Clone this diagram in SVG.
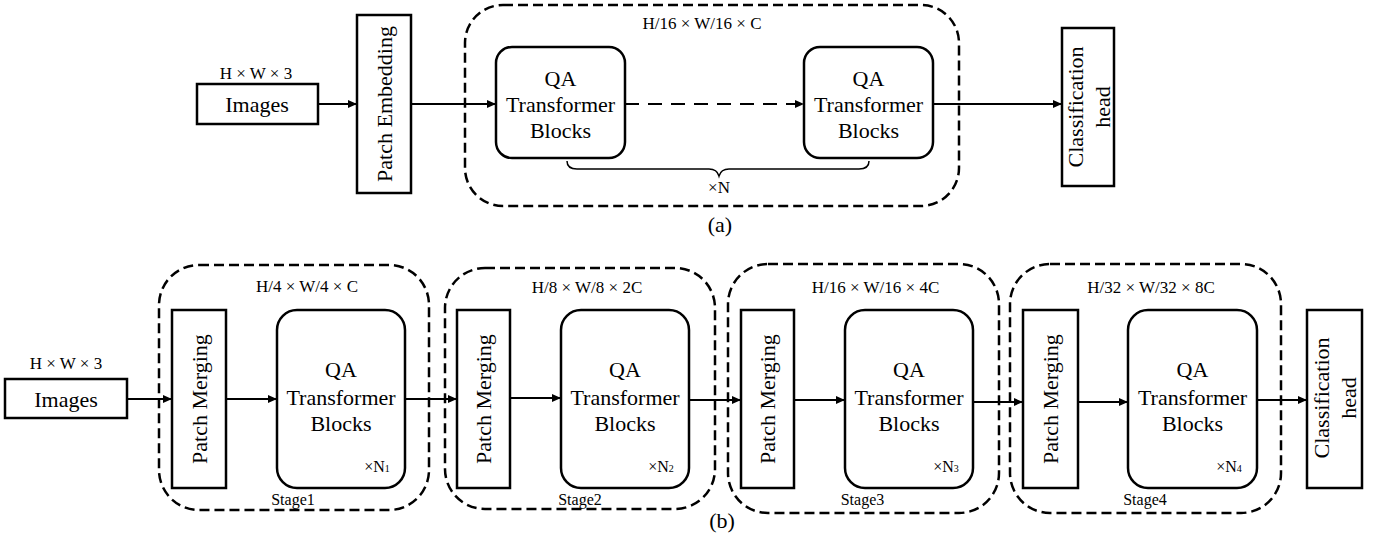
<svg xmlns="http://www.w3.org/2000/svg" width="1379" height="540" viewBox="0 0 1379 540">
<style>
text{font-family:"Liberation Serif","Times New Roman",serif;fill:#000}
.box{fill:#fff;stroke:#000;stroke-width:2.5}
.cont{fill:none;stroke:#000;stroke-width:2.5;stroke-dasharray:10 5}
.big{font-size:22px;text-anchor:middle}
.lbl{font-size:17px;text-anchor:middle}
.small{font-size:16px;text-anchor:middle}
.sub{font-size:10px}
.ln{fill:none;stroke:#000;stroke-width:2}
</style>
<defs>
<marker id="ah" markerUnits="userSpaceOnUse" markerWidth="10" markerHeight="8" refX="9" refY="4" orient="auto">
<path d="M0,0 L9,4 L0,8 Z" fill="#000"/>
</marker>
</defs>

<g id="a-container"><rect class="cont" x="465" y="5" width="494" height="201" rx="38"/><text class="lbl" x="702" y="29">H/16 × W/16 × C</text></g>
<g id="a-images"><text class="lbl" x="256" y="79">H × W × 3</text><rect class="box" x="197" y="84" width="121" height="40"/><text class="big" x="257" y="112">Images</text></g>
<g id="a-patch-embedding"><rect class="box" x="357" y="15" width="54" height="178"/><text class="big" transform="translate(384,104) rotate(-90)" y="8">Patch Embedding</text></g>
<g id="a-qa1"><rect class="box" x="496" y="47" width="129" height="111" rx="16"/><text class="big" x="560.5" y="86">QA</text><text class="big" x="560.5" y="112">Transformer</text><text class="big" x="560.5" y="138">Blocks</text></g>
<g id="a-qa2"><rect class="box" x="804" y="47" width="129" height="111" rx="16"/><text class="big" x="868.5" y="86">QA</text><text class="big" x="868.5" y="112">Transformer</text><text class="big" x="868.5" y="138">Blocks</text></g>
<g id="a-brace"><path d="M567,161 Q567,169 577,169 L709,169 Q717,169 719,176 Q721,169 729,169 L859,169 Q869,169 869,161" fill="none" stroke="#000" stroke-width="1.5"/><text class="lbl" x="719" y="193">×N</text></g>
<g id="a-head"><rect class="box" x="1062" y="28" width="52" height="158"/><text class="big" transform="translate(1088,107) rotate(-90)" y="-5">Classification</text><text class="big" transform="translate(1088,107) rotate(-90)" y="22">head</text></g>
<text class="big" x="720" y="232">(a)</text>

<g id="b-images"><text class="lbl" x="66" y="369">H × W × 3</text><rect class="box" x="5" y="379" width="122" height="39"/><text class="big" x="66" y="407">Images</text></g>

<g id="stage1"><rect class="cont" x="159" y="265" width="270" height="245" rx="40"/><text class="lbl" x="307" y="292">H/4 × W/4 × C</text>
<rect class="box" x="172" y="310" width="54" height="178"/><text class="big" transform="translate(199,399) rotate(-90)" y="7.5">Patch Merging</text>
<rect class="box" x="277" y="310" width="128" height="178" rx="20"/><text class="big" x="341" y="377">QA</text><text class="big" x="341" y="405">Transformer</text><text class="big" x="341" y="431">Blocks</text>
<text class="small" x="377" y="472">×N<tspan class="sub">1</tspan></text>
<text class="small" x="293" y="505">Stage1</text></g>

<g id="stage2"><rect class="cont" x="445" y="268" width="270" height="241" rx="40"/><text class="lbl" x="587" y="293">H/8 × W/8 × 2C</text>
<rect class="box" x="457" y="310" width="53" height="178"/><text class="big" transform="translate(483.5,399) rotate(-90)" y="7.5">Patch Merging</text>
<rect class="box" x="561" y="310" width="128" height="178" rx="20"/><text class="big" x="625" y="377">QA</text><text class="big" x="625" y="405">Transformer</text><text class="big" x="625" y="431">Blocks</text>
<text class="small" x="661" y="472">×N<tspan class="sub">2</tspan></text>
<text class="small" x="580" y="505">Stage2</text></g>

<g id="stage3"><rect class="cont" x="728" y="264" width="271" height="249" rx="40"/><text class="lbl" x="875.5" y="293">H/16 × W/16 × 4C</text>
<rect class="box" x="741" y="310" width="53" height="178"/><text class="big" transform="translate(767.5,399) rotate(-90)" y="7.5">Patch Merging</text>
<rect class="box" x="845" y="310" width="128" height="178" rx="20"/><text class="big" x="909" y="377">QA</text><text class="big" x="909" y="405">Transformer</text><text class="big" x="909" y="431">Blocks</text>
<text class="small" x="946" y="472">×N<tspan class="sub">3</tspan></text>
<text class="small" x="862.5" y="505">Stage3</text></g>

<g id="stage4"><rect class="cont" x="1010" y="264" width="271" height="249" rx="40"/><text class="lbl" x="1151" y="293">H/32 × W/32 × 8C</text>
<rect class="box" x="1023" y="310" width="55" height="178"/><text class="big" transform="translate(1050.5,399) rotate(-90)" y="7.5">Patch Merging</text>
<rect class="box" x="1128" y="310" width="129" height="178" rx="20"/><text class="big" x="1192.5" y="377">QA</text><text class="big" x="1192.5" y="405">Transformer</text><text class="big" x="1192.5" y="431">Blocks</text>
<text class="small" x="1229" y="472">×N<tspan class="sub">4</tspan></text>
<text class="small" x="1145" y="505">Stage4</text></g>

<g id="b-head"><rect class="box" x="1307" y="310" width="55" height="178"/><text class="big" transform="translate(1335,398) rotate(-90)" y="-6">Classification</text><text class="big" transform="translate(1335,398) rotate(-90)" y="21">head</text></g>
<text class="big" x="722" y="528">(b)</text>

<g id="connectors">
<line class="ln" x1="318" y1="104" x2="357" y2="104" marker-end="url(#ah)"/>
<line class="ln" x1="411" y1="104" x2="496" y2="104" marker-end="url(#ah)"/>
<line class="ln" x1="625" y1="104" x2="804" y2="104" stroke-dasharray="14 9" marker-end="url(#ah)"/>
<line class="ln" x1="933" y1="104" x2="1062" y2="104" marker-end="url(#ah)"/>
<line class="ln" x1="127" y1="399" x2="172" y2="399" marker-end="url(#ah)"/>
<line class="ln" x1="226" y1="399" x2="277" y2="399" marker-end="url(#ah)"/>
<line class="ln" x1="405" y1="399" x2="457" y2="399" marker-end="url(#ah)"/>
<line class="ln" x1="510" y1="398" x2="561" y2="398" marker-end="url(#ah)"/>
<line class="ln" x1="689" y1="400" x2="741" y2="400" marker-end="url(#ah)"/>
<line class="ln" x1="794" y1="400" x2="845" y2="400" marker-end="url(#ah)"/>
<line class="ln" x1="973" y1="402" x2="1023" y2="402" marker-end="url(#ah)"/>
<line class="ln" x1="1078" y1="402" x2="1128" y2="402" marker-end="url(#ah)"/>
<line class="ln" x1="1257" y1="400" x2="1307" y2="400" marker-end="url(#ah)"/>
</g>
</svg>
